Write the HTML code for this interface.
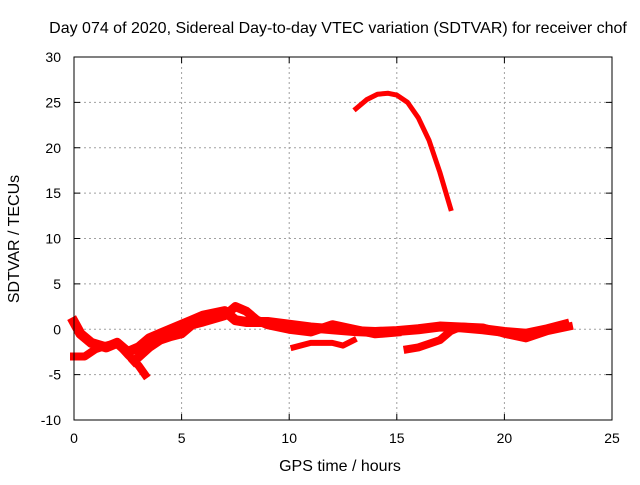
<!DOCTYPE html>
<html><head><meta charset="utf-8"><style>
body{margin:0;background:#fff}
svg text{font-family:"Liberation Sans",sans-serif;font-size:14px;fill:#000}
svg text.big{font-size:16px}
</style></head><body>
<svg id="c" width="640" height="480" xmlns="http://www.w3.org/2000/svg">
<text class="big" x="338" y="33" text-anchor="middle">Day 074 of 2020, Sidereal Day-to-day VTEC variation (SDTVAR) for receiver chof</text>
<text class="big" x="340" y="471" text-anchor="middle">GPS time / hours</text>
<text class="big" x="19" y="239" text-anchor="middle" transform="rotate(-90 19 239)">SDTVAR / TECUs</text>
<g id="grid"></g><g id="marks"></g>
<rect x="74" y="57" width="538" height="363" fill="none" stroke="#000" stroke-width="1"/>
</svg>
<script>
const xTicks=[0,5,10,15,20,25];
const yTicks=[-10,-5,0,5,10,15,20,25,30];
const arcX=[13.1,13.6,14.1,14.6,15.0,15.5,16.0,16.5,17.0,17.5];
const arcY=[24.3,25.3,25.9,26.0,25.8,25.0,23.3,20.8,17.3,13.3];
const aX=[0,0.5,1,1.5,2,2.5,3,3.3];
const aY=[-3,-3,-2.2,-1.8,-1.5,-2.8,-4,-5];
const bX=[0,0.3,0.8,1.5,2,2.5,3,3.5,4,5,5.5,6,7,7.5,8,9,10,11,12,13,14,15,16,17,18,19,20,21,22,22.8];
const bY=[0.8,-0.5,-1.5,-2,-1.5,-2.5,-2,-1,-0.5,0.5,1,1.5,2,1,0.8,0.8,0.5,0.2,0,-0.2,-0.3,-0.2,0,0.3,0.2,0,-0.3,-0.5,0,0.5];
const cX=[2.8,3.5,4,4.5,5,5.5,6,7,7.5,8,8.5,9,10,11,12,13,14,15];
const cY=[-3.5,-2,-1.2,-0.8,-0.5,0.5,0.8,1.5,2.5,2,1,0.5,0,-0.3,0.5,0,-0.5,-0.3];
const dX=[10.2,11,12,12.5,13];
const dY=[-2,-1.5,-1.5,-1.8,-1.2];
const eX=[15.5,16,17,17.5,18,19,20,21,22,23];
const eY=[-2.2,-2,-1.2,-0.2,0.3,0.2,-0.5,-1,-0.2,0.3];
const X=v=>74+v*538/25, Y=v=>420-(v+10)*363/40;
const NS='http://www.w3.org/2000/svg';
const g=document.getElementById('grid'), m=document.getElementById('marks');
function mk(t,a,p){const e=document.createElementNS(NS,t);for(const k in a)e.setAttribute(k,a[k]);p.appendChild(e);return e;}
xTicks.forEach(t=>{
 if(t>0&&t<25){const l=mk('line',{x1:X(t),x2:X(t),y1:57,y2:420,stroke:'#a0a0a0','stroke-dasharray':'2,3'},g);
 
 }
 mk('line',{x1:X(t),x2:X(t),y1:420,y2:414,stroke:'#000'},g);
 mk('line',{x1:X(t),x2:X(t),y1:57,y2:63,stroke:'#000'},g);
 const tx=mk('text',{x:X(t),y:443,'text-anchor':'middle'},g);tx.textContent=t;
 
 
});
yTicks.forEach(t=>{
 if(t>-10&&t<30){const l=mk('line',{x1:74,x2:612,y1:Y(t),y2:Y(t),stroke:'#a0a0a0','stroke-dasharray':'2,3'},g);
 
 }
 mk('line',{x1:74,x2:80,y1:Y(t),y2:Y(t),stroke:'#000'},g);
 mk('line',{x1:612,x2:606,y1:Y(t),y2:Y(t),stroke:'#000'},g);
 const tx=mk('text',{x:61,y:Y(t)+5,'text-anchor':'end'},g);tx.textContent=t;
 
 
});
[[arcX,arcY,5],[aX,aY,8],[bX,bY,10],[cX,cY,9],[dX,dY,6],[eX,eY,8]].forEach(([xs,ys,w])=>{
 const p=mk('polyline',{points:xs.map((x,i)=>X(x)+','+Y(ys[i])).join(' '),fill:'none',stroke:'#ff0000','stroke-width':w,'stroke-linejoin':'round','stroke-linecap':'square'},m);
 
 
});
</script>
</body></html>
